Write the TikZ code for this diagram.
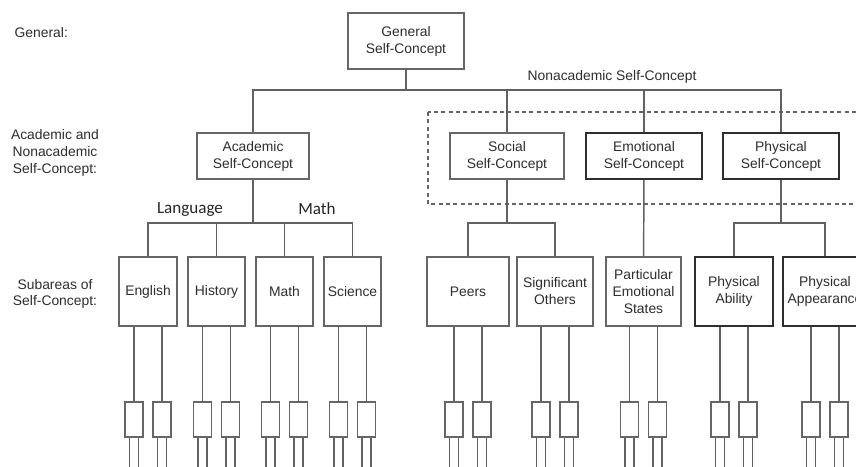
\documentclass[tikz,border=0pt]{standalone}
\usepackage{fontspec}
\setmainfont{Liberation Sans}
\newfontfamily\calib{Carlito}
\begin{document}
\begin{tikzpicture}[x=0.75pt,y=-0.75pt,
  ln/.style={draw=black!62, line width=1.1pt},
  bx/.style={draw=black!60, line width=1.1pt, rectangle, inner sep=0pt, align=center, text=black!82, font=\fontsize{10.4}{12.75}\selectfont},
  bxd/.style={bx, draw=black!82, line width=1.4pt},
  lab/.style={align=center, text=black!82, font=\fontsize{10.4}{12.5}\selectfont},
  brl/.style={text=black!85, font=\calib\fontsize{12.8}{14}\selectfont},
  sm/.style={draw=black!60, line width=1.1pt, minimum width=13.5pt, minimum height=26.25pt, inner sep=0pt},
  dbox/.style={draw=black!60, line width=1.1pt, dash pattern=on 3pt off 2.5pt},
]
\clip (0,0) rectangle (856,467);
\fill[white] (0,0) rectangle (856,467);

% left labels
\node[lab, anchor=west] (lg) at (10,33) {General:};
\node[lab] (lan) at (55,153) {Academic and\\Nonacademic\\Self-Concept:};
\node[lab] (lsub) at (55,294) {Subareas of\\Self-Concept:};

% dashed region
\draw[dbox] (428,112) rectangle (880,204);

% level 1
\node[bx, minimum width=87pt, minimum height=42pt] (gen) at (406,41) {General\\Self-Concept};
% level 2
\node[bx, minimum width=84pt, minimum height=34.5pt] (acad) at (253,156) {Academic\\Self-Concept};
\node[bx, minimum width=85.5pt, minimum height=34.5pt] (soc) at (507,156) {Social\\Self-Concept};
\node[bxd, minimum width=87pt, minimum height=34.5pt] (emo) at (644,156) {Emotional\\Self-Concept};
\node[bxd, minimum width=87pt, minimum height=34.5pt] (phys) at (781,156) {Physical\\Self-Concept};
\node[lab] (nlab) at (612,77) {Nonacademic Self-Concept};

% level 3
\node[bx, minimum width=43.5pt, minimum height=51.75pt] (eng) at (148,291.5) {English};
\node[bx, minimum width=42.75pt, minimum height=51.75pt] (his) at (216.5,291.5) {History};
\node[bx, minimum width=42.75pt, minimum height=51.75pt] (mat) at (284.5,291.5) {Math};
\node[bx, minimum width=42.75pt, minimum height=51.75pt] (sci) at (352.5,291.5) {Science};
\node[bx, minimum width=61.5pt, minimum height=51.75pt] (peers) at (468,291.5) {Peers};
\node[bx, minimum width=57pt, minimum height=51.75pt] (sig) at (555,291.5) {Significant\\Others};
\node[bx, minimum width=56.25pt, minimum height=51.75pt] (part) at (643.5,291.5) {Particular\\Emotional\\States};
\node[bxd, minimum width=58.5pt, minimum height=51.75pt] (pab) at (734,291.5) {Physical\\Ability};
\node[bxd, minimum width=63pt, minimum height=51.75pt] (pap) at (825,291.5) {Physical\\Appearance};

\node[brl] (lang) at (190,209) {Language};
\node[brl] (mth) at (317,209) {Math};

% top connectors
\coordinate (jt) at (406,90);
\draw[ln] (gen) -- (jt);
\draw[ln] (acad.north) |- (jt) -| (phys.north);
\draw[ln] (jt -| soc.north) -- (soc.north);
\draw[ln] (jt -| emo.north) -- (emo.north);

% academic branch
\coordinate (ja) at (253,223);
\draw[ln] (acad) -- (ja);
\draw[ln] (eng.north) |- (ja) -| (sci.north);
\draw[ln] (ja -| his.north) -- (his.north);
\draw[ln] (ja -| mat.north) -- (mat.north);

% social branch
\coordinate (js) at (507,223);
\draw[ln] (soc) -- (js);
\draw[ln] (peers.north) |- (js) -| (sig.north);
% emotional
\draw[ln] (emo) -- (part);
% physical branch
\coordinate (jp) at (781,223);
\draw[ln] (phys) -- (jp);
\draw[ln] (pab.north) |- (jp) -| (pap.north);

% small boxes
\foreach \n/\c in {eng/148, his/216.5, mat/284.5, sci/352.5, peers/468, sig/555, part/643.5, pab/734, pap/825}{
  \node[sm] (\n-a) at ({\c-14},419.5) {};
  \node[sm] (\n-b) at ({\c+14},419.5) {};
  \draw[ln] (\n.south -| \n-a) -- (\n-a.north);
  \draw[ln] (\n.south -| \n-b) -- (\n-b.north);
  \coordinate (\n-a1) at ({\c-14-4.5},470);
  \coordinate (\n-a2) at ({\c-14+4.5},470);
  \coordinate (\n-b1) at ({\c+14-4.5},470);
  \coordinate (\n-b2) at ({\c+14+4.5},470);
  \draw[ln] (\n-a.south -| \n-a1) -- (\n-a1);
  \draw[ln] (\n-a.south -| \n-a2) -- (\n-a2);
  \draw[ln] (\n-b.south -| \n-b1) -- (\n-b1);
  \draw[ln] (\n-b.south -| \n-b2) -- (\n-b2);
}
\end{tikzpicture}
\end{document}
